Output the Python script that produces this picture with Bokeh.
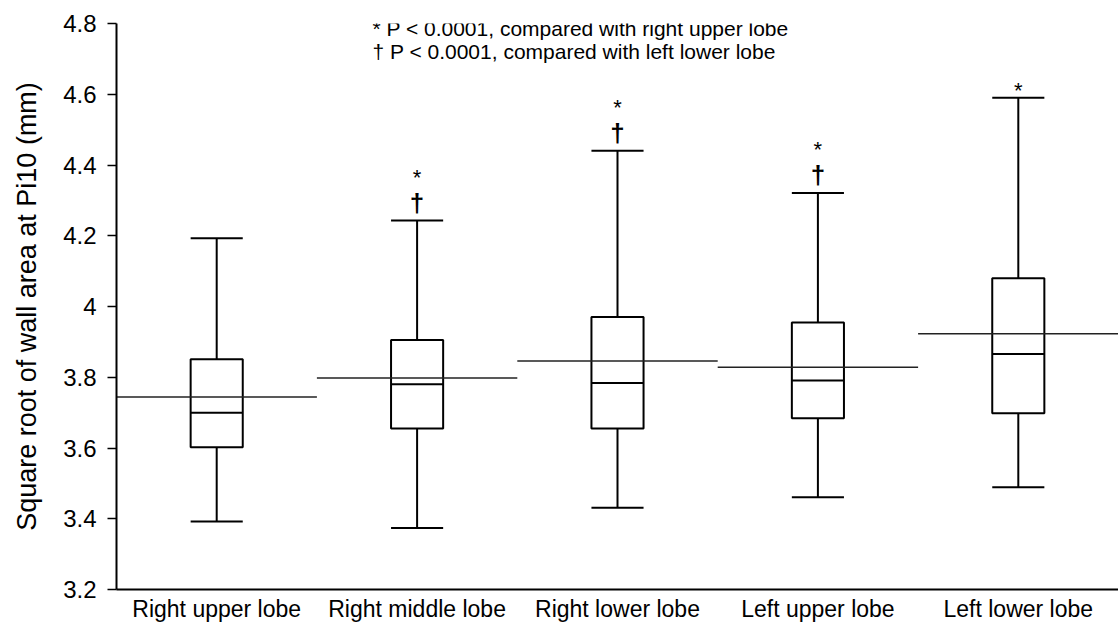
from bokeh.plotting import figure
from bokeh.models import FactorRange, FixedTicker, ColumnDataSource, Label
from bokeh.transform import dodge
from bokeh.embed import file_html
from bokeh.resources import INLINE

categories = ["Right upper lobe", "Right middle lobe", "Right lower lobe",
              "Left upper lobe", "Left lower lobe"]
whisker_low = [3.392, 3.374, 3.431, 3.461, 3.489]
q1 = [3.602, 3.655, 3.655, 3.684, 3.698]
median = [3.700, 3.780, 3.784, 3.791, 3.866]
q3 = [3.851, 3.905, 3.970, 3.955, 4.080]
whisker_high = [4.193, 4.243, 4.440, 4.321, 4.590]
mean = [3.744, 3.798, 3.846, 3.828, 3.923]
star_marks = ["", "*", "*", "*", "*"]
dagger_marks = ["", "\u2020", "\u2020", "\u2020", ""]

y_ticks = [3.2, 3.4, 3.6, 3.8, 4.0, 4.2, 4.4, 4.6, 4.8]
y_tick_labels = ["3.2", "3.4", "3.6", "3.8", "4", "4.2", "4.4", "4.6", "4.8"]
y_title = "Square root of wall area at Pi10 (mm)"
note_lines = ["* P < 0.0001, compared with right upper lobe",
              "\u2020 P < 0.0001, compared with left lower lobe"]

FONT = "Liberation Sans"

p = figure(x_range=FactorRange(factors=categories, range_padding=0),
           y_range=(3.2, 4.8), width=1118, height=624,
           output_backend="svg", toolbar_location=None,
           min_border_left=116, min_border_right=0, min_border_top=23,
           min_border_bottom=32)
p.outline_line_color = None
p.xgrid.visible = False
p.ygrid.visible = False

star_off = [-43 if d else -7 for d in dagger_marks]
src = ColumnDataSource(dict(cat=categories, lo=whisker_low, q1=q1, med=median,
                            q3=q3, hi=whisker_high, mean=mean,
                            star=star_marks, dag=dagger_marks, soff=star_off))

half = 0.13
# whiskers
p.segment(x0="cat", x1="cat", y0="q3", y1="hi", source=src, line_color="black", line_width=2)
p.segment(x0="cat", x1="cat", y0="lo", y1="q1", source=src, line_color="black", line_width=2)
# caps
p.segment(x0=dodge("cat", -half, range=p.x_range), x1=dodge("cat", half, range=p.x_range),
          y0="hi", y1="hi", source=src, line_color="black", line_width=2)
p.segment(x0=dodge("cat", -half, range=p.x_range), x1=dodge("cat", half, range=p.x_range),
          y0="lo", y1="lo", source=src, line_color="black", line_width=2)
# boxes
p.vbar(x="cat", top="q3", bottom="q1", width=2 * half, source=src,
       fill_color="white", line_color="black", line_width=2)
# medians
p.segment(x0=dodge("cat", -half, range=p.x_range), x1=dodge("cat", half, range=p.x_range),
          y0="med", y1="med", source=src, line_color="black", line_width=2)
# means (span whole category)
p.segment(x0=dodge("cat", -0.5, range=p.x_range), x1=dodge("cat", 0.5, range=p.x_range),
          y0="mean", y1="mean", source=src, line_color="#222222", line_width=1.5)

# significance markers
p.text(x="cat", y="hi", text="dag", source=src, text_align="center",
       text_baseline="middle", y_offset=-18, text_font_size="26px",
       text_font_style="bold", text_font={"value": FONT}, text_color="black")
p.text(x="cat", y="hi", text="star", source=src,
       text_align="center", text_baseline="middle", y_offset="soff",
       text_font_size="22px", text_font={"value": FONT}, text_color="black")

# legend notes
for i, line in enumerate(note_lines):
    p.add_layout(Label(x=1.277, y=4.786 - i * 0.065, text=line, text_baseline="middle",
                       text_align="left", text_font_size="21px", text_font=FONT,
                       text_color="black"))

# axes
p.yaxis.ticker = FixedTicker(ticks=y_ticks)
p.yaxis.major_label_overrides = dict(zip(y_ticks, y_tick_labels))
p.yaxis.minor_tick_line_color = None
p.yaxis.major_tick_in = 0
p.yaxis.major_tick_out = 9
p.yaxis.major_tick_line_width = 1.5
p.yaxis.major_tick_line_color = "black"
p.yaxis.axis_line_width = 2
p.yaxis.axis_line_color = "black"
p.yaxis.major_label_standoff = 11
p.yaxis.major_label_text_font = FONT
p.yaxis.major_label_text_font_size = "24px"
p.yaxis.major_label_text_color = "black"
p.yaxis.axis_label = y_title
p.yaxis.axis_label_text_font = FONT
p.yaxis.axis_label_text_font_size = "27px"
p.yaxis.axis_label_text_font_style = "normal"
p.yaxis.axis_label_text_color = "black"
p.yaxis.axis_label_standoff = 18

p.xaxis.major_tick_in = 0
p.xaxis.major_tick_out = 0
p.xaxis.minor_tick_line_color = None
p.xaxis.axis_line_width = 2
p.xaxis.axis_line_color = "black"
p.xaxis.major_label_standoff = 6
p.xaxis.major_label_text_font = FONT
p.xaxis.major_label_text_font_size = "23px"
p.xaxis.major_label_text_color = "black"

open("out.html", "w").write(file_html(p, INLINE))
